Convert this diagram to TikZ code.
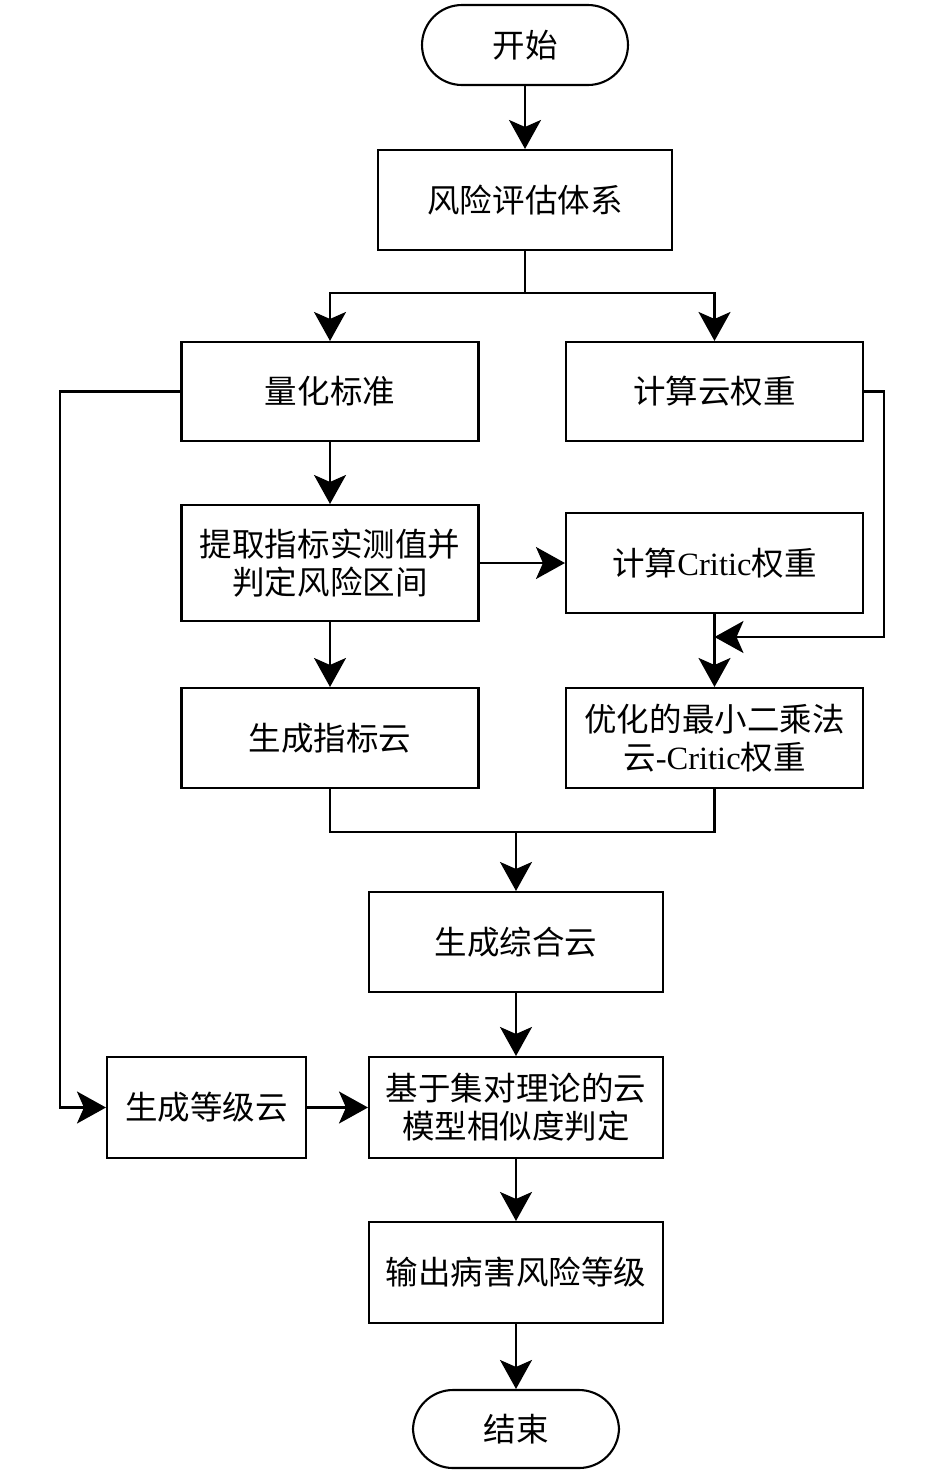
\documentclass[tikz,border=0pt]{standalone}
\usepackage{fontspec}
\setmainfont{Liberation Serif}
\newfontfamily\cjk{Noto Sans CJK SC}
\usetikzlibrary{arrows.meta}
\begin{document}
\begin{tikzpicture}[x=0.02cm,y=-0.02cm,
  every node/.style={font=\fontsize{18.5}{21.5}\selectfont},
  line/.style={line width=1.2pt},
  arr/.style={line, -{Stealth[length=0.58cm,width=0.64cm,inset=0.14cm]}},
  stepbox/.style={draw, line width=1.2pt, inner sep=0pt, align=center, minimum height=2cm},
  term/.style={draw, line width=1.2pt, inner sep=0pt, rounded corners=0.8cm, minimum width=4.12cm, minimum height=1.6cm}
]
\useasboundingbox (0,0) rectangle (945,1475);
\node[term] (start) at (525,45) {\cjk 开始};
\node[stepbox, minimum width=5.88cm] (sys) at (525,200) {\cjk 风险评估体系};
\node[stepbox, minimum width=5.94cm, minimum height=1.98cm] (quant) at (330,391.5) {\cjk 量化标准};
\node[stepbox, minimum width=5.94cm, minimum height=1.98cm] (cloudw) at (714.5,391.5) {\cjk 计算云权重};
\node[stepbox, minimum width=5.94cm, minimum height=2.32cm] (extract) at (330,563) {\cjk 提取指标实测值并\\\cjk 判定风险区间};
\node[stepbox, minimum width=5.94cm] (critic) at (714.5,563) {{\cjk 计算}Critic{\cjk 权重}};
\node[stepbox, minimum width=5.94cm] (idxcloud) at (330,738) {\cjk 生成指标云};
\node[stepbox, minimum width=5.94cm] (opt) at (714.5,738) {\cjk 优化的最小二乘法\\{\cjk 云}-Critic{\cjk 权重}};
\node[stepbox, minimum width=5.88cm] (comp) at (516,942) {\cjk 生成综合云};
\node[stepbox, minimum width=5.88cm, minimum height=2.02cm] (judge) at (516,1107.5) {\cjk 基于集对理论的云\\\cjk 模型相似度判定};
\node[stepbox, minimum width=3.98cm, minimum height=2.02cm] (grade) at (206.5,1107.5) {\cjk 生成等级云};
\node[stepbox, minimum width=5.88cm, minimum height=2.02cm] (out) at (516,1272.5) {\cjk 输出病害风险等级};
\node[term, minimum height=1.56cm] (end) at (516,1429) {\cjk 结束};

\coordinate (j1) at (525,293);
\coordinate (lft) at (60,1107.5);
\coordinate (rgt) at (884,637);
\coordinate (mj) at (714.5,637);
\coordinate (j2) at (516,832);

\draw[arr] (start) -- (sys);
\draw[line] (sys.south) -- (j1);
\draw[arr] (j1) -| (quant.north);
\draw[arr] (j1) -| (cloudw.north);
\draw[arr] (quant.west) -| (lft) -- (grade.west);
\draw[arr] (cloudw.east) -| (rgt) -- (mj);
\draw[arr] (quant) -- (extract);
\draw[arr] (extract) -- (critic);
\draw[arr] (extract) -- (idxcloud);
\draw[arr] (critic) -- (opt);
\draw[line] (idxcloud.south) |- (j2);
\draw[line] (opt.south) |- (j2);
\draw[arr] (j2) -- (comp.north);
\draw[arr] (comp) -- (judge);
\draw[arr] (grade) -- (judge);
\draw[arr] (judge) -- (out);
\draw[arr] (out) -- (end);
\end{tikzpicture}
\end{document}
